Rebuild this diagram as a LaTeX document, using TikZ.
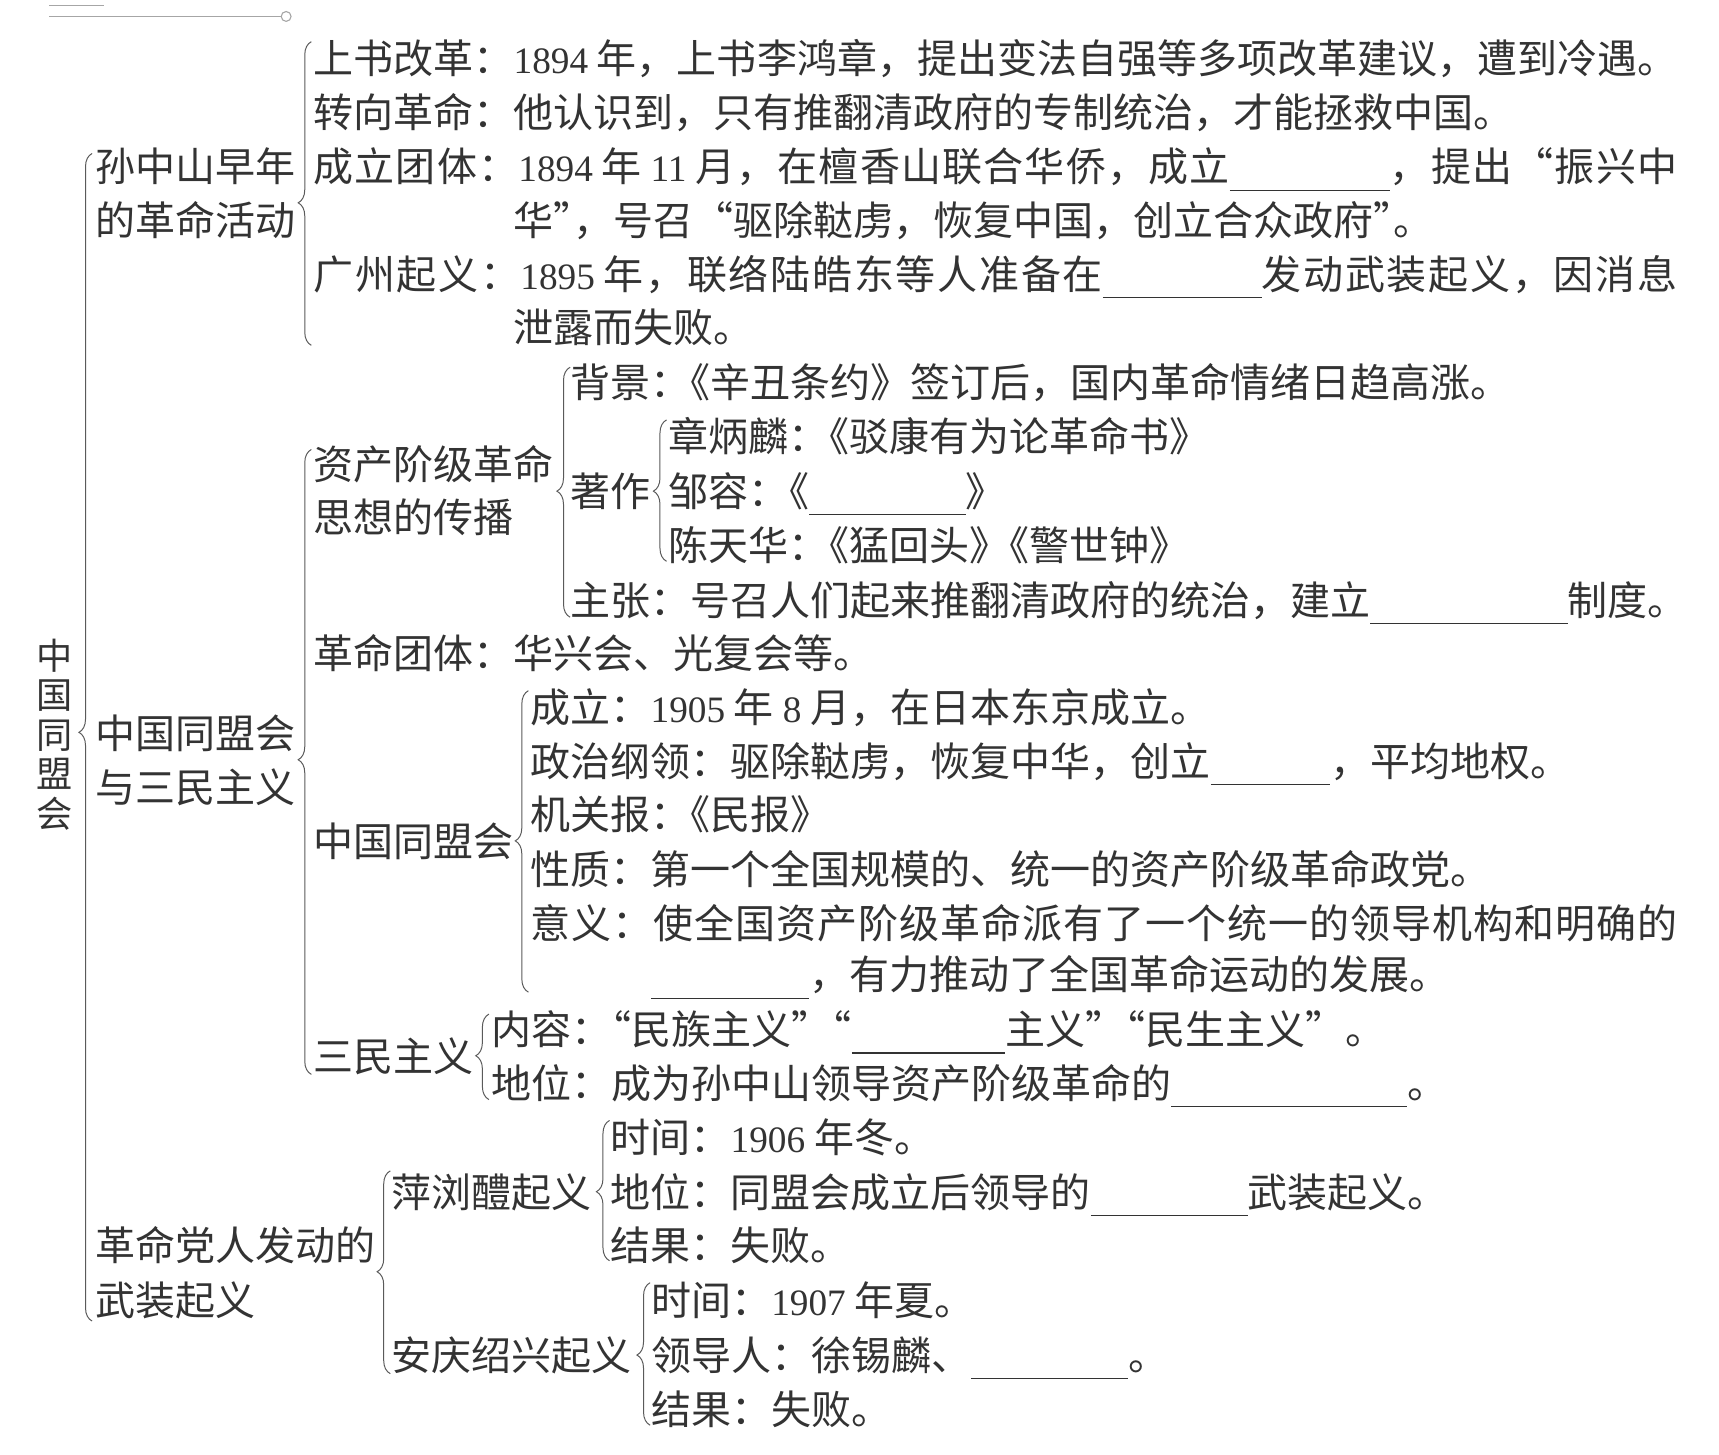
\documentclass[tikz,border=0pt]{standalone}
\usepackage{fontspec}
\setmainfont{Noto Sans CJK SC}
\newfontfamily\dgfont{Liberation Serif}
\usetikzlibrary{decorations.pathreplacing}
\definecolor{ink}{HTML}{333333}
\definecolor{rulec}{HTML}{5A5A5A}
% stretchable glue between CJK characters (used for justified lines)
\XeTeXinterchartokenstate=1
\newXeTeXintercharclass\mycjk
\newcount\cjkcc
\cjkcc="4E00
\loop \XeTeXcharclass\cjkcc=\mycjk \advance\cjkcc by 1 \ifnum\cjkcc<"A000 \repeat
\cjkcc="3001
\loop \XeTeXcharclass\cjkcc=\mycjk \advance\cjkcc by 1 \ifnum\cjkcc<"3020 \repeat
\cjkcc="FF01
\loop \XeTeXcharclass\cjkcc=\mycjk \advance\cjkcc by 1 \ifnum\cjkcc<"FF5F \repeat
\XeTeXcharclass"201C=\mycjk
\XeTeXcharclass"201D=\mycjk
\newcommand\cjkglue{\hskip0pt plus 2pt\relax}
\XeTeXinterchartoks\mycjk\mycjk={\cjkglue}
\newcommand\dg[1]{{\dgfont\fontsize{34}{34}\selectfont #1}}
\newcommand\dsp{\hspace{8pt}}
\newcommand\hk{\kern-18pt}
\newcommand\blank[1]{\rule[-8pt]{#1pt}{1.1pt}}
\newcommand\cjkfont{\fontsize{36.5}{49}\selectfont}
\tikzset{
  txt/.style={anchor=base west, inner sep=0pt, outer sep=0pt, text=ink, font=\cjkfont},
  bracepath/.style={draw=rulec, line width=0.9pt, decorate,
    decoration={brace, amplitude=12pt, aspect=#1}},
  deco/.style={draw=gray!70, line width=1pt}
}
% text line: name, x, y-centre, text
\newcommand\T[4]{\node[txt] (#1) at (#2,#3+14) {#4};}
% brace: name, straight x, top, bottom, tip y
\newcommand\Br[5]{%
  \coordinate (#1t) at (#2+6,#3);
  \coordinate (#1b) at (#2+6,#4);
  \pgfmathsetmacro\asp{(#4-#5)/(#4-#3)}%
  \draw[bracepath=\asp] (#1b) -- (#1t);}
\begin{document}
\begin{tikzpicture}[x=1pt,y=-1pt]
\useasboundingbox (0,0) rectangle (1568,1327);
\fill[white] (0,0) rectangle (1568,1327);
% header ornament (cut off at top)
\coordinate (hl1) at (45,15);
\coordinate (hl2) at (256,15);
\draw[deco] (hl1) -- (hl2);
\draw[deco] (261,15) circle (4.5pt);
\coordinate (hs1) at (45,5);
\coordinate (hs2) at (95,5);
\draw[deco] (hs1) -- (hs2);

% root
\node[inner sep=0pt, text=ink, align=center, font=\fontsize{33}{36}\selectfont] (root) at (50,670) {中\\国\\同\\盟\\会};
\Br{broot}{78}{140}{1205}{668}

% level 1
\T{a1}{87}{152}{孙中山早年}
\T{a2}{87}{201}{的革命活动}
\T{b1}{87}{669}{中国同盟会}
\T{b2}{87}{718}{与三民主义}
\T{c1}{87}{1136}{革命党人发动的}
\T{c2}{87}{1186}{武装起义}

% branch A
\Br{ba}{278}{38}{315}{185}
\T{a11}{286}{53}{上书改革：\dg{1894}\dsp 年，上书李鸿章，提出变法自强等多项改革建议，遭到冷遇。}
\T{a12}{286}{102}{转向革命：他认识到，只有推翻清政府的专制统治，才能拯救中国。}
\T{a13}{286}{152}{\hbox to 1244pt{成立团体：\dg{1894}\dsp 年\dsp\dg{11}\dsp 月，在檀香山联合华侨，成立\blank{146}，提出“振兴中}}
\T{a13b}{468}{201}{华”\hk，号召“驱除鞑虏，恢复中国，创立合众政府”\hk。}
\T{a14}{286}{250}{\hbox to 1244pt{广州起义：\dg{1895}\dsp 年，联络陆皓东等人准备在\blank{145}发动武装起义，因消息}}
\T{a14b}{468}{298}{泄露而失败。}

% branch B
\Br{bb}{278}{410}{980}{693}
\T{p1}{286}{423}{资产阶级革命}
\T{p2}{286}{472}{思想的传播}
\Br{bp}{514}{335}{563}{448}
\T{p11}{520}{349}{背景：\hk《辛丑条约》签订后，国内革命情绪日趋高涨。}
\T{p12}{520}{448}{著作}
\Br{bz}{602}{383}{512}{448}
\T{z1}{610}{398}{章炳麟：\hk《驳康有为论革命书》}
\T{z2}{610}{448}{邹容：\hk《\blank{143}》}
\T{z3}{610}{497}{陈天华：\hk《猛回头》\hk《警世钟》}
\T{p13}{520}{547}{主张：号召人们起来推翻清政府的统治，建立\blank{180}制度。}
\T{q1}{286}{596}{革命团体：华兴会、光复会等。}
\T{t1}{286}{767}{中国同盟会}
\Br{bt}{476}{630}{905}{767}
\T{t11}{484}{645}{成立：\dg{1905}\dsp 年\dsp\dg{8}\dsp 月，在日本东京成立。}
\T{t12}{484}{694}{政治纲领：驱除鞑虏，恢复中华，创立\blank{109}，平均地权。}
\T{t13}{484}{743}{机关报：\hk《民报》}
\T{t14}{484}{793}{性质：第一个全国规模的、统一的资产阶级革命政党。}
\T{t15}{484}{842}{\hbox to 1046pt{意义：使全国资产阶级革命派有了一个统一的领导机构和明确的}}
\T{t15b}{594}{889}{\blank{144}，有力推动了全国革命运动的发展。}
\T{s1}{286}{963}{三民主义}
\Br{bs}{440}{925}{1003}{963}
\T{s11}{448}{939}{内容：\hk“民族主义”\hk“\blank{140}主义”\hk“民生主义”。}
\T{s12}{448}{988}{地位：成为孙中山领导资产阶级革命的\blank{215}。}

% branch C
\Br{bc}{350}{1068}{1253}{1160}
\T{u1}{357}{1087}{萍浏醴起义}
\Br{bu}{550}{1022}{1150}{1087}
\T{u11}{557}{1037}{时间：\dg{1906}\dsp 年冬。}
\T{u12}{557}{1087}{地位：同盟会成立后领导的\blank{143}武装起义。}
\T{u13}{557}{1136}{结果：失败。}
\T{v1}{357}{1236}{安庆绍兴起义}
\Br{bv}{587}{1170}{1300}{1236}
\T{v11}{594}{1186}{时间：\dg{1907}\dsp 年夏。}
\T{v12}{594}{1236}{领导人：徐锡麟、\blank{143}。}
\T{v13}{594}{1285}{结果：失败。}
\end{tikzpicture}
\end{document}
